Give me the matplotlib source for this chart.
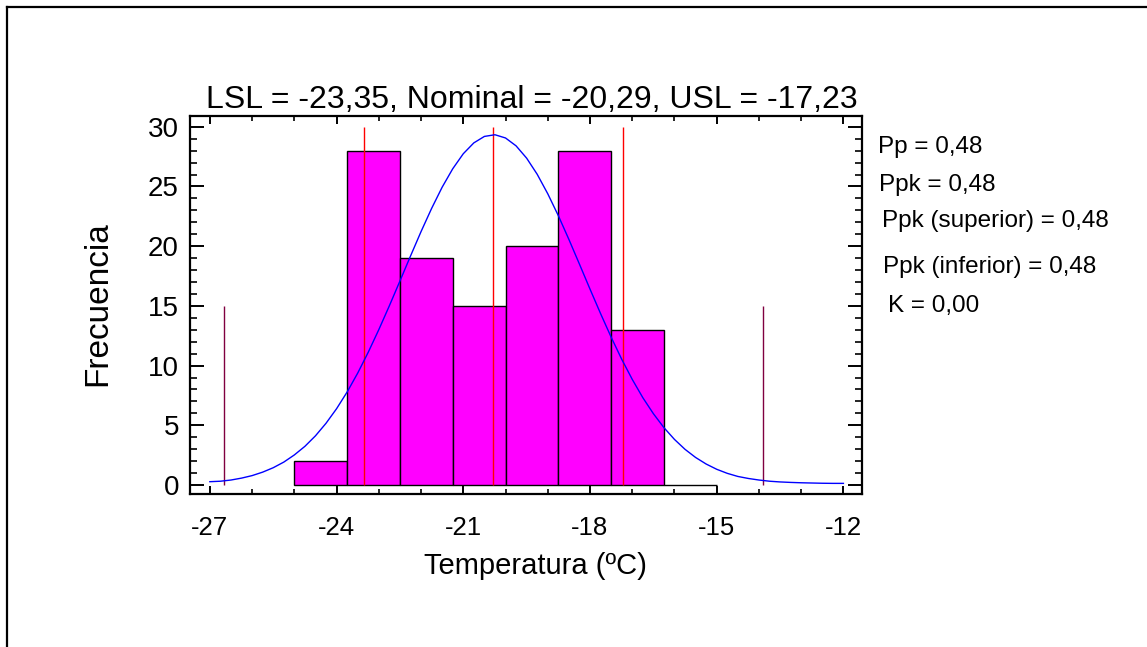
import matplotlib
matplotlib.use("Agg")
import matplotlib.pyplot as plt
from matplotlib.lines import Line2D
from matplotlib.ticker import MultipleLocator

plt.rcParams['font.family'] = ['Liberation Sans', 'DejaVu Sans']

# Histogram of temperatures
bin_left = [-25.0, -23.75, -22.5, -21.25, -20.0, -18.75, -17.5, -16.25]
bin_width = 1.25
counts = [2, 28, 19, 15, 20, 28, 13, 0]

# Fitted normal curve (frequency scale)
curve_x = [-27.0 + 0.25 * i for i in range(61)]
curve_y = [0.28, 0.32, 0.42, 0.58, 0.79, 1.08, 1.45, 1.92, 2.52, 3.24,
           4.12, 5.17, 6.39, 7.79, 9.37, 11.12, 13.01, 15.01, 17.08, 19.17,
           21.22, 23.16, 24.94, 26.48, 27.74, 28.65, 29.19, 29.33, 29.06, 28.40,
           27.37, 26.02, 24.39, 22.56, 20.57, 18.50, 16.41, 14.36, 12.39, 10.54,
           8.85, 7.32, 5.98, 4.81, 3.82, 2.99, 2.31, 1.76, 1.32, 0.98,
           0.72, 0.55, 0.42, 0.32, 0.26, 0.22, 0.19, 0.17, 0.15, 0.14, 0.14]

# Specification limits and +/- 3 sigma marks
lsl, nominal, usl = -23.35, -20.29, -17.23
spec_top = 30
sigma_marks = [-26.665, -13.915]
sigma_top = 15

x_ticks = [-27, -24, -21, -18, -15, -12]
x_tick_labels = ['-27', '-24', '-21', '-18', '-15', '-12']
y_ticks = [0, 5, 10, 15, 20, 25, 30]
y_tick_labels = ['0', '5', '10', '15', '20', '25', '30']

title = "LSL = -23,35, Nominal = -20,29, USL = -17,23"
x_label = "Temperatura (ºC)"
y_label = "Frecuencia"
stats = ["Pp = 0,48", "Ppk = 0,48", "Ppk (superior) = 0,48",
         "Ppk (inferior) = 0,48", "K = 0,00"]

W, H = 1147, 647
fig = plt.figure(figsize=(W / 100, H / 100), dpi=100)


def fx(px):
    return px / W


def fy(py):
    return 1 - py / H


ax = fig.add_axes([fx(190), fy(494), fx(862) - fx(190), fy(116) - fy(494)])

ax.bar(bin_left, counts, width=bin_width, align='edge', color='#ff00ff',
       edgecolor='black', linewidth=1.0, zorder=2)
ax.plot(curve_x, curve_y, color='#0000ff', linewidth=1.0, zorder=4)
ax.vlines([lsl, nominal, usl], 0, spec_top, color='#ff0000', linewidth=1.0, zorder=3)
ax.vlines(sigma_marks, 0, sigma_top, color='#800040', linewidth=1.0, zorder=3)

ax.set_xlim(-27.47, -11.56)
ax.set_ylim(-0.75, 30.9)
ax.set_xticks(x_ticks)
ax.set_xticklabels(x_tick_labels)
ax.set_yticks(y_ticks)
ax.set_yticklabels(y_tick_labels)
ax.xaxis.set_minor_locator(MultipleLocator(1))
ax.yaxis.set_minor_locator(MultipleLocator(1))

for s in ax.spines.values():
    s.set_linewidth(1.6)

ax.tick_params(axis='x', which='major', direction='in', top=True, bottom=True,
               length=6, width=1.4, labelsize=18.5, pad=16)
ax.tick_params(axis='x', which='minor', direction='in', top=True, bottom=True,
               length=3.5, width=1.2)
ax.tick_params(axis='y', which='major', direction='in', left=True, right=True,
               length=10, width=1.4, labelsize=20, pad=8)
ax.tick_params(axis='y', which='minor', direction='in', left=True, right=True,
               length=5, width=1.2)

fig.text(fx(532), fy(108), title, ha='center', va='baseline', fontsize=23)
fig.text(fx(535), fy(574), x_label, ha='center', va='baseline', fontsize=21)
fig.text(fx(113), fy(304), y_label, ha='right', va='center', rotation=90, fontsize=24)

stat_pos = [(878, 153), (879, 191), (882, 227), (883, 273), (888, 312)]
for (px, py), txt in zip(stat_pos, stats):
    fig.text(fx(px), fy(py), txt, ha='left', va='baseline', fontsize=17.5)

# Outer frame
fig.add_artist(Line2D([fx(7), fx(W + 5)], [fy(7), fy(7)], color='black', linewidth=1.6))
fig.add_artist(Line2D([fx(7), fx(7)], [fy(7), fy(H + 5)], color='black', linewidth=1.6))

fig.savefig("out.png", dpi=100)
